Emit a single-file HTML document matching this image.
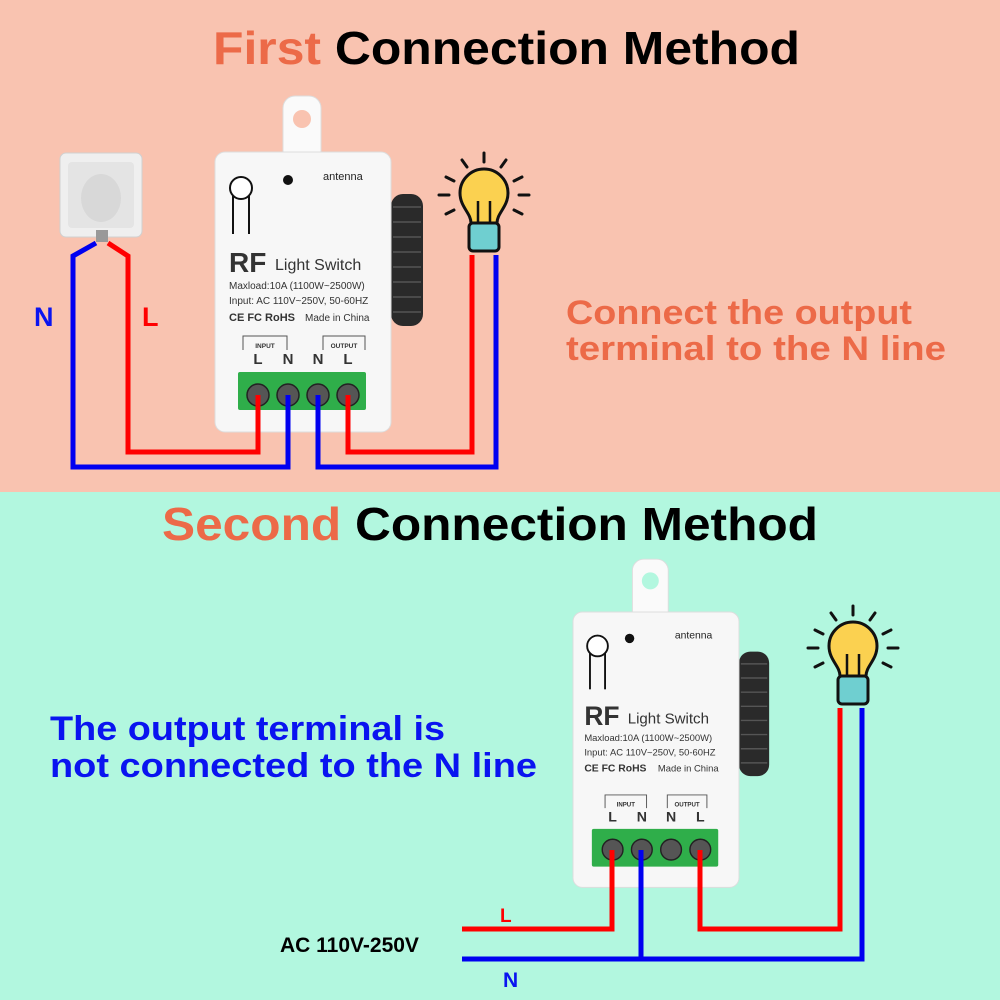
<!DOCTYPE html>
<html><head><meta charset="utf-8"><style>
html,body{margin:0;padding:0;width:1000px;height:1000px;overflow:hidden}
svg{display:block}
text{font-family:"Liberation Sans",sans-serif}
</style></head><body>
<svg width="1000" height="1000" viewBox="0 0 1000 1000">
<rect x="0" y="0" width="1000" height="492" fill="#f9c3b0"/>
<rect x="0" y="492" width="1000" height="508" fill="#b2f7df"/>

<text x="213" y="64" font-size="46" font-weight="bold" textLength="587" lengthAdjust="spacingAndGlyphs"><tspan fill="#ec6a48">First</tspan><tspan fill="#000"> Connection Method</tspan></text>
<text x="162" y="540" font-size="46" font-weight="bold" textLength="656" lengthAdjust="spacingAndGlyphs"><tspan fill="#ec6a48">Second</tspan><tspan fill="#000"> Connection Method</tspan></text>

<text x="566" y="324" font-size="34" font-weight="bold" fill="#ec6a48" textLength="346" lengthAdjust="spacingAndGlyphs">Connect the output</text>
<text x="566" y="360" font-size="34" font-weight="bold" fill="#ec6a48" textLength="380" lengthAdjust="spacingAndGlyphs">terminal to the N line</text>

<text x="50" y="740" font-size="34" font-weight="bold" fill="#0a14f0" textLength="395" lengthAdjust="spacingAndGlyphs">The output terminal is</text>
<text x="50" y="777" font-size="34" font-weight="bold" fill="#0a14f0" textLength="487" lengthAdjust="spacingAndGlyphs">not connected to the N line</text>

<text x="280" y="952" font-size="21" font-weight="bold" fill="#000">AC 110V-250V</text>
<text x="500" y="922" font-size="19" font-weight="bold" fill="#f00">L</text>
<text x="503" y="987" font-size="21" font-weight="bold" fill="#0a14f0">N</text>
<text x="34" y="326" font-size="27" font-weight="bold" fill="#0a14f0">N</text>
<text x="142" y="326" font-size="27" font-weight="bold" fill="#f00">L</text>

<!-- socket -->
<rect x="60" y="153" width="82" height="84" rx="6" fill="#efefef" stroke="#d0d0d0"/>
<rect x="68" y="162" width="66" height="66" rx="4" fill="#e4e4e4"/>
<ellipse cx="101" cy="198" rx="20" ry="24" fill="#d8d8d8"/>
<rect x="96" y="230" width="12" height="12" fill="#999"/>

<!-- device 1 -->
<g transform="translate(215,152)">
<rect x="176" y="42" width="32" height="132" rx="12" fill="#2a2a2a"/>
<g stroke="#555" stroke-width="1.5">
<line x1="178" y1="55" x2="206" y2="55"/><line x1="178" y1="70" x2="206" y2="70"/><line x1="178" y1="85" x2="206" y2="85"/><line x1="178" y1="100" x2="206" y2="100"/><line x1="178" y1="115" x2="206" y2="115"/><line x1="178" y1="130" x2="206" y2="130"/><line x1="178" y1="145" x2="206" y2="145"/><line x1="178" y1="160" x2="206" y2="160"/>
</g>
<rect x="68" y="-56" width="38" height="70" rx="12" fill="#fafafa" stroke="#ddd"/>
<circle cx="87" cy="-33" r="9" fill="#f9c3b0"/>
<rect x="0" y="0" width="176" height="280" rx="10" fill="#f7f7f7" stroke="#ddd"/>
<circle cx="26" cy="36" r="11" fill="#fff" stroke="#111" stroke-width="2"/>
<line x1="18" y1="44" x2="18" y2="82" stroke="#111" stroke-width="2"/><line x1="34" y1="44" x2="34" y2="82" stroke="#111" stroke-width="2"/>
<circle cx="73" cy="28" r="5" fill="#111"/>
<text x="108" y="28" font-size="11" fill="#222">antenna</text>
<text x="14" y="120" font-size="28" font-weight="bold" fill="#333">RF</text>
<text x="60" y="118" font-size="16" fill="#333">Light Switch</text>
<text x="14" y="137" font-size="10" fill="#333">Maxload:10A (1100W~2500W)</text>
<text x="14" y="152" font-size="10" fill="#333">Input: AC 110V~250V, 50-60HZ</text>
<text x="14" y="169" font-size="11" font-weight="bold" fill="#333">CE FC RoHS</text>
<text x="90" y="169" font-size="10" fill="#333">Made in China</text>
<path d="M28,198 v-14 h44 v14 M108,198 v-14 h42 v14" fill="none" stroke="#555"/>
<text x="50" y="196" font-size="6.5" font-weight="bold" text-anchor="middle" fill="#333">INPUT</text>
<text x="129" y="196" font-size="6.5" font-weight="bold" text-anchor="middle" fill="#333">OUTPUT</text>
<text x="43" y="212" font-size="15" font-weight="bold" text-anchor="middle" fill="#333">L</text>
<text x="73" y="212" font-size="15" font-weight="bold" text-anchor="middle" fill="#333">N</text>
<text x="103" y="212" font-size="15" font-weight="bold" text-anchor="middle" fill="#333">N</text>
<text x="133" y="212" font-size="15" font-weight="bold" text-anchor="middle" fill="#333">L</text>
<rect x="23" y="220" width="128" height="38" rx="2" fill="#2fae4a"/>
<g fill="#555" stroke="#222" stroke-width="1.5">
<circle cx="43" cy="243" r="11"/><circle cx="73" cy="243" r="11"/><circle cx="103" cy="243" r="11"/><circle cx="133" cy="243" r="11"/>
</g>
</g>

<!-- device 2 -->
<g transform="translate(573,612) scale(0.943)">
<rect x="176" y="42" width="32" height="132" rx="12" fill="#2a2a2a"/>
<g stroke="#555" stroke-width="1.5">
<line x1="178" y1="55" x2="206" y2="55"/><line x1="178" y1="70" x2="206" y2="70"/><line x1="178" y1="85" x2="206" y2="85"/><line x1="178" y1="100" x2="206" y2="100"/><line x1="178" y1="115" x2="206" y2="115"/><line x1="178" y1="130" x2="206" y2="130"/><line x1="178" y1="145" x2="206" y2="145"/><line x1="178" y1="160" x2="206" y2="160"/>
</g>
<rect x="63" y="-56" width="38" height="70" rx="12" fill="#fafafa" stroke="#ddd"/>
<circle cx="82" cy="-33" r="9" fill="#b2f7df"/>
<rect x="0" y="0" width="176" height="292" rx="10" fill="#f7f7f7" stroke="#ddd"/>
<circle cx="26" cy="36" r="11" fill="#fff" stroke="#111" stroke-width="2"/>
<line x1="18" y1="44" x2="18" y2="82" stroke="#111" stroke-width="2"/><line x1="34" y1="44" x2="34" y2="82" stroke="#111" stroke-width="2"/>
<circle cx="60" cy="28" r="5" fill="#111"/>
<text x="108" y="28" font-size="11" fill="#222">antenna</text>
<text x="12" y="120" font-size="28" font-weight="bold" fill="#333">RF</text>
<text x="58" y="118" font-size="16" fill="#333">Light Switch</text>
<text x="12" y="137" font-size="10" fill="#333">Maxload:10A (1100W~2500W)</text>
<text x="12" y="152" font-size="10" fill="#333">Input: AC 110V~250V, 50-60HZ</text>
<text x="12" y="169" font-size="11" font-weight="bold" fill="#333">CE FC RoHS</text>
<text x="90" y="169" font-size="10" fill="#333">Made in China</text>
<path d="M34,208 v-14 h44 v14 M100,208 v-14 h42 v14" fill="none" stroke="#555"/>
<text x="56" y="206" font-size="6.5" font-weight="bold" text-anchor="middle" fill="#333">INPUT</text>
<text x="121" y="206" font-size="6.5" font-weight="bold" text-anchor="middle" fill="#333">OUTPUT</text>
<text x="42" y="222" font-size="15" font-weight="bold" text-anchor="middle" fill="#333">L</text>
<text x="73" y="222" font-size="15" font-weight="bold" text-anchor="middle" fill="#333">N</text>
<text x="104" y="222" font-size="15" font-weight="bold" text-anchor="middle" fill="#333">N</text>
<text x="135" y="222" font-size="15" font-weight="bold" text-anchor="middle" fill="#333">L</text>
<rect x="20" y="230" width="134" height="40" rx="2" fill="#2fae4a"/>
<g fill="#555" stroke="#222" stroke-width="1.5">
<circle cx="42" cy="252" r="11"/><circle cx="73" cy="252" r="11"/><circle cx="104" cy="252" r="11"/><circle cx="135" cy="252" r="11"/>
</g>
</g>

<!-- top wires -->
<g fill="none" stroke-width="5" stroke-linejoin="miter">
<polyline points="108,243 128,256 128,452 258,452 258,395" stroke="#f00"/>
<polyline points="96,243 73,256 73,467 288,467 288,395" stroke="#0000f0"/>
<polyline points="318,395 318,467 496,467 496,255" stroke="#0000f0"/>
<polyline points="348,395 348,452 472,452 472,255" stroke="#f00"/>
</g>

<!-- bottom wires -->
<g fill="none" stroke-width="5">
<polyline points="462,929 612,929 612,850" stroke="#f00"/>
<polyline points="462,959 862,959 862,708" stroke="#0000f0"/>
<polyline points="641,850 641,959" stroke="#0000f0"/>
<polyline points="700,850 700,929 840,929 840,708" stroke="#f00"/>
</g>

<!-- bulb 1 -->
<g transform="translate(484,195)">
<g stroke="#111" stroke-width="3" stroke-linecap="round">
<line x1="0" y1="-42" x2="0" y2="-33"/><line x1="-22" y1="-35" x2="-17" y2="-28"/><line x1="22" y1="-35" x2="17" y2="-28"/>
<line x1="-38" y1="-18" x2="-30" y2="-14"/><line x1="38" y1="-18" x2="30" y2="-14"/>
<line x1="-45" y1="0" x2="-35" y2="0"/><line x1="45" y1="0" x2="35" y2="0"/>
<line x1="-38" y1="19" x2="-30" y2="15"/><line x1="38" y1="19" x2="30" y2="15"/>
</g>
<path d="M-13,28 C-13,18 -24,12 -24,-2 A24,24 0 1 1 24,-2 C24,12 13,18 13,28 Z" fill="#fbd150" stroke="#111" stroke-width="3"/>
<rect x="-15" y="28" width="30" height="28" rx="4" fill="#6fcfd0" stroke="#111" stroke-width="3"/>
<path d="M-6,28 v-22 M6,28 v-22" stroke="#111" stroke-width="2.5"/>
</g>
<!-- bulb 2 -->
<g transform="translate(853,648)">
<g stroke="#111" stroke-width="3" stroke-linecap="round">
<line x1="0" y1="-42" x2="0" y2="-33"/><line x1="-22" y1="-35" x2="-17" y2="-28"/><line x1="22" y1="-35" x2="17" y2="-28"/>
<line x1="-38" y1="-18" x2="-30" y2="-14"/><line x1="38" y1="-18" x2="30" y2="-14"/>
<line x1="-45" y1="0" x2="-35" y2="0"/><line x1="45" y1="0" x2="35" y2="0"/>
<line x1="-38" y1="19" x2="-30" y2="15"/><line x1="38" y1="19" x2="30" y2="15"/>
</g>
<path d="M-13,28 C-13,18 -24,12 -24,-2 A24,24 0 1 1 24,-2 C24,12 13,18 13,28 Z" fill="#fbd150" stroke="#111" stroke-width="3"/>
<rect x="-15" y="28" width="30" height="28" rx="4" fill="#6fcfd0" stroke="#111" stroke-width="3"/>
<path d="M-6,28 v-22 M6,28 v-22" stroke="#111" stroke-width="2.5"/>
</g>
</svg>
</body></html>
